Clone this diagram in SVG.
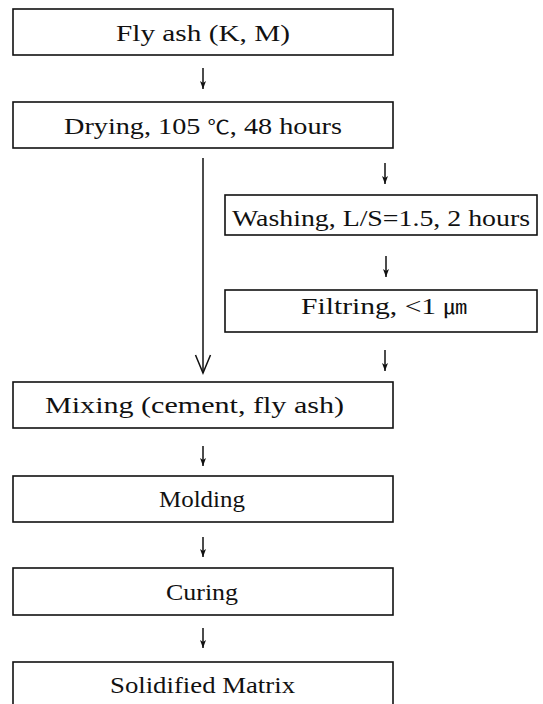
<svg xmlns="http://www.w3.org/2000/svg" width="543" height="704" viewBox="0 0 543 704">
<style>
.box{fill:#fff;stroke:#111;stroke-width:1.6}
.t{font-family:"Liberation Serif","Noto Sans CJK KR",serif;font-size:24px;fill:#111}
.s{font-size:19px}
.c{stroke:#111;stroke-width:1.5;fill:none}
</style>
<defs>
<marker id="ah" viewBox="0 0 8 6" refX="8" refY="3" markerWidth="8" markerHeight="6" markerUnits="userSpaceOnUse" orient="auto">
<path d="M0,0 L8,3 L0,6 L2,3 Z" fill="#111"/>
</marker>
</defs>
<rect width="543" height="704" fill="#fff"/>
<g id="connectors">
<line class="c" x1="203" y1="68" x2="203" y2="89" marker-end="url(#ah)"/>
<line class="c" x1="385" y1="163" x2="385" y2="184" marker-end="url(#ah)"/>
<line class="c" x1="386" y1="256" x2="386" y2="277" marker-end="url(#ah)"/>
<line class="c" x1="385" y1="350" x2="385" y2="371" marker-end="url(#ah)"/>
<line class="c" x1="203" y1="446" x2="203" y2="466" marker-end="url(#ah)"/>
<line class="c" x1="203" y1="537" x2="203" y2="557" marker-end="url(#ah)"/>
<line class="c" x1="203" y1="628" x2="203" y2="648" marker-end="url(#ah)"/>
<line class="c" x1="203" y1="158" x2="203" y2="373"/>
<polyline class="c" points="195.5,355 203,373 210.5,355"/>
</g>
<g id="n1"><rect class="box" x="13" y="9" width="380" height="46"/><text class="t" x="116" y="41" textLength="174" lengthAdjust="spacingAndGlyphs">Fly ash (K, M)</text></g>
<g id="n2"><rect class="box" x="13" y="102" width="380" height="46"/><text class="t" x="64" y="134" textLength="278" lengthAdjust="spacingAndGlyphs">Drying, 105 <tspan class="s">℃</tspan>, 48 hours</text></g>
<g id="n3"><rect class="box" x="225" y="195" width="312" height="40"/><text class="t" x="232" y="226" textLength="298" lengthAdjust="spacingAndGlyphs">Washing, L/S=1.5, 2 hours</text></g>
<g id="n4"><rect class="box" x="225" y="290" width="312" height="42"/><text class="t" x="301" y="314" textLength="166" lengthAdjust="spacingAndGlyphs">Filtring, &lt;1 <tspan class="s">㎛</tspan></text></g>
<g id="n5"><rect class="box" x="13" y="382" width="380" height="46"/><text class="t" x="45" y="413" textLength="299" lengthAdjust="spacingAndGlyphs">Mixing (cement, fly ash)</text></g>
<g id="n6"><rect class="box" x="13" y="476" width="380" height="46"/><text class="t" x="159" y="507" textLength="86" lengthAdjust="spacingAndGlyphs">Molding</text></g>
<g id="n7"><rect class="box" x="13" y="568" width="380" height="47"/><text class="t" x="166" y="600" textLength="72" lengthAdjust="spacingAndGlyphs">Curing</text></g>
<g id="n8"><rect class="box" x="13" y="662" width="380" height="48"/><text class="t" x="110" y="693" textLength="185" lengthAdjust="spacingAndGlyphs">Solidified Matrix</text></g>
</svg>
